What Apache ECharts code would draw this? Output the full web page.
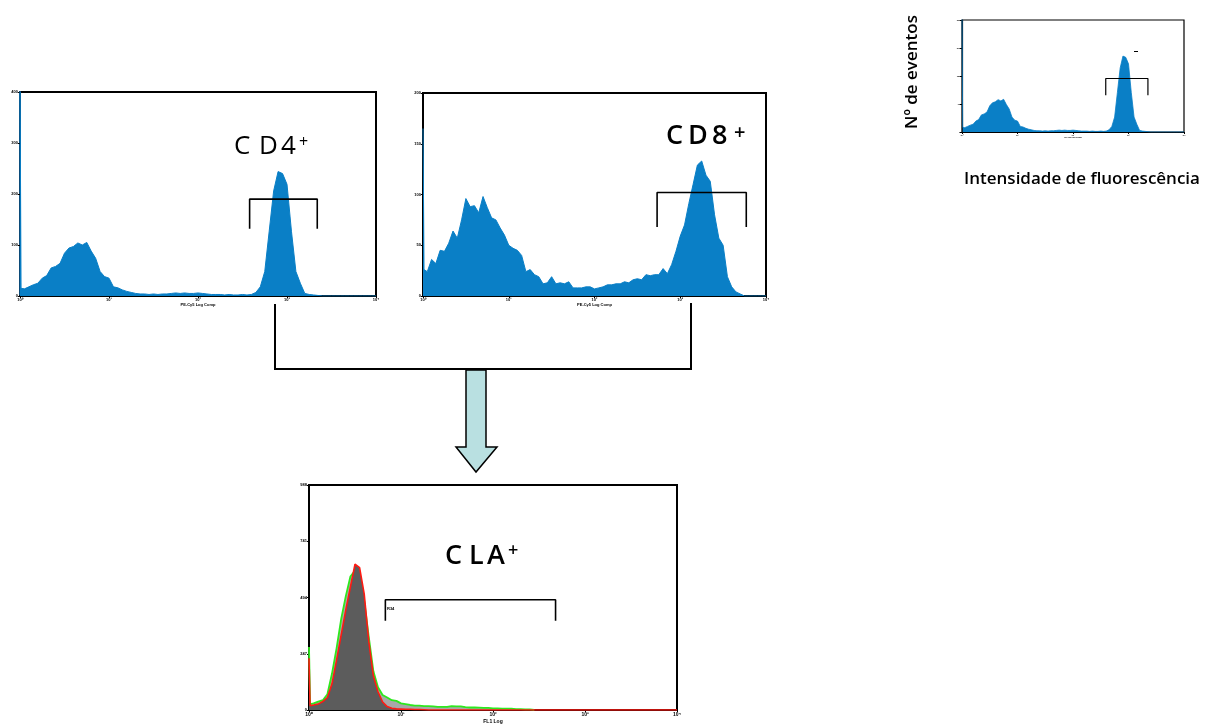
<!DOCTYPE html>
<html>
<head>
<meta charset="utf-8">
<script src="https://cdn.jsdelivr.net/npm/echarts@6/dist/echarts.min.js"></script>
<style>
  html, body { margin: 0; padding: 0; background: #fff; }
  #main { width: 1218px; height: 725px; }
</style>
</head>
<body>
<div id="main"></div>
<script>
// bins are 0.05 decade wide, from 10^0 to 10^4
const STEP = 0.05;
const EDGE_W = 0.012;
const SUP = ['\u2070', '\u00b9', '\u00b2', '\u00b3', '\u2074'];

// CD4 gate histogram (counts per bin)
const cd4Counts = [
  15, 14, 18, 22, 25, 35, 40, 55, 58, 64,
  84, 94, 97, 104, 100, 105, 88, 74, 48, 38,
  35, 18, 16, 12, 9, 7, 5, 4, 4, 3,
  4, 3, 4, 4, 5, 6, 5, 6, 5, 5,
  6, 5, 4, 3, 3, 3, 2, 3, 2, 2,
  3, 2, 3, 7, 18, 48, 127, 206, 244, 240,
  219, 127, 48, 25, 5, 3, 2, 1, 0, 0,
  0, 0, 0, 0, 0, 0, 0, 0, 0, 0, 0
];
const cd4Edge = 420;
const cd4Gate = [2.58, 3.34, 132, 190];

// CD8 gate histogram
const cd8Counts = [
  26, 24, 36, 32, 45, 44, 52, 64, 57, 75,
  96, 88, 89, 82, 98, 87, 77, 75, 67, 60,
  50, 47, 45, 40, 24, 26, 21, 19, 12, 13,
  19, 12, 13, 12, 14, 8, 8, 8, 9, 9,
  7, 8, 9, 11, 11, 12, 12, 14, 13, 16,
  17, 16, 21, 20, 21, 21, 27, 22, 31, 44,
  59, 70, 91, 110, 129, 133, 119, 113, 80, 57,
  50, 19, 9, 4, 2, 0, 0, 0, 0, 0, 0
];
const cd8Edge = 165;
const cd8Gate = [2.73, 3.77, 68, 102];

// CLA overlay: green outline (light fill) and red outline (dark fill)
const claGreen = [
  26, 29, 37, 43, 69, 160, 272, 400, 500, 586,
  612, 557, 480, 320, 170, 100, 66, 55, 43, 40,
  29, 26, 22, 19, 19, 17, 17, 16, 14, 14,
  14, 17, 16, 16, 13, 11, 11, 10, 9, 9,
  7, 7, 6, 6, 6, 4, 4, 3, 3, 1
];
const claGreenEdge = 277;
const claRed = [
  19, 22, 26, 37, 55, 115, 220, 330, 440, 540,
  640, 625, 510, 300, 150, 80, 35, 15, 8, 5,
  4, 3, 3, 2, 2, 1, 0, 0, 0, 0,
  0, 0, 0, 0, 0, 0, 0, 0, 0, 0,
  0, 0, 0, 0, 0, 0, 0, 0, 0, 0,
  0, 0, 0, 0, 0, 0, 0, 0, 0, 0,
  0, 0, 0, 0, 0, 0, 0, 0, 0, 0,
  0, 0, 0, 0, 0, 0, 0, 0, 0, 0, 0
];
const claRedEdge = 227;
const claGate = [0.83, 2.68, 392, 484];

// inset legend panel reuses the CD4 histogram
const insetGate = [2.59, 3.35, 118, 172];

const BLUE = '#0a7fc6';

function toPairs(vals, edge) {
  const pts = vals.map((v, i) => [i * STEP, v]);
  if (edge != null) {
    pts[0] = [EDGE_W, vals[0]];
    pts.unshift([0, edge]);
  }
  return pts;
}
function gatePts(g) {
  return [[g[0], g[2]], [g[0], g[3]], [g[1], g[3]], [g[1], g[2]]];
}

function xAx(idx, name, fs, gap) {
  return {
    gridIndex: idx, type: 'value', min: 0, max: 4, interval: 1,
    name: name, nameLocation: 'middle', nameGap: gap,
    nameTextStyle: { fontSize: fs, fontWeight: 'bold', fontFamily: 'Liberation Sans', color: '#000' },
    axisLine: { lineStyle: { color: '#000', width: 2 } },
    axisTick: { show: true, length: 2, lineStyle: { color: '#000', width: 1 } },
    axisLabel: { fontSize: fs, fontWeight: 'bold', fontFamily: 'Liberation Sans', color: '#000', margin: 2,
      formatter: v => '10' + SUP[v] },
    splitLine: { show: false }
  };
}
function yAx(idx, max, interval, fs, lineColor) {
  return {
    gridIndex: idx, type: 'value', min: 0, max: max, interval: interval,
    axisLine: { show: true, lineStyle: { color: lineColor || '#000', width: 2 } },
    axisTick: { show: true, length: 2, lineStyle: { color: '#000', width: 1 } },
    axisLabel: { fontSize: fs, fontWeight: 'bold', fontFamily: 'Liberation Sans', color: '#000', margin: 2 },
    splitLine: { show: false }
  };
}
function histSeries(idx, data, color, fill, width, z) {
  return {
    type: 'line', xAxisIndex: idx, yAxisIndex: idx, data: data,
    symbol: 'none', silent: true, z: z || 2,
    lineStyle: { color: color, width: width },
    areaStyle: { color: fill, opacity: 1 }
  };
}
function gateSeries(idx, g, w) {
  return {
    type: 'line', xAxisIndex: idx, yAxisIndex: idx, data: gatePts(g),
    symbol: 'none', silent: true, z: 5,
    lineStyle: { color: '#000', width: w }
  };
}
// one glyph per text element so the wide letter spacing of the figure is kept
function glyph(ch, x, y, size, weight) {
  return { type: 'text', x: x, y: y, z: 10,
    style: { text: ch, fontSize: size, fontFamily: 'Open Sans', fontWeight: weight, fill: '#000', verticalAlign: 'middle' } };
}

const chart = echarts.init(document.getElementById('main'));
const gridBox = { show: true, borderColor: '#000', borderWidth: 2, backgroundColor: 'transparent' };

chart.setOption({
  backgroundColor: '#fff',
  animation: false,
  grid: [
    Object.assign({ left: 20, top: 92, width: 356, height: 204 }, gridBox),
    Object.assign({ left: 423, top: 93, width: 343, height: 203 }, gridBox),
    Object.assign({ left: 309, top: 485, width: 368, height: 229 }, gridBox),
    Object.assign({ left: 962, top: 20, width: 222, height: 112 }, gridBox, { borderWidth: 1.2 })
  ],
  xAxis: [
    xAx(0, 'PE-Cy5 Log Comp', 4, 7),
    xAx(1, 'PE-Cy5 Log Comp', 4, 7),
    xAx(2, 'FL1 Log', 5, 9),
    Object.assign(xAx(3, 'PE-Cy5 Log Comp', 2, 4), { axisLine: { lineStyle: { color: '#000', width: 1.2 } } })
  ],
  yAxis: [
    yAx(0, 400, 100, 4, '#0b4a78'),
    yAx(1, 200, 50, 4),
    yAx(2, 988, 247, 4),
    Object.assign(yAx(3, 360, 90, 2), { axisLine: { show: true, lineStyle: { color: '#000', width: 1.2 } } })
  ],
  series: [
    histSeries(0, toPairs(cd4Counts, cd4Edge), BLUE, BLUE, 1),
    gateSeries(0, cd4Gate, 1.6),
    histSeries(1, toPairs(cd8Counts, cd8Edge), BLUE, BLUE, 1),
    gateSeries(1, cd8Gate, 1.6),
    histSeries(2, toPairs(claGreen, claGreenEdge), '#2ee81e', '#a8a8a8', 1.8, 2),
    histSeries(2, toPairs(claRed, claRedEdge), '#ff1a12', '#5c5c5c', 1.6, 3),
    gateSeries(2, claGate, 1.6),
    histSeries(3, toPairs(cd4Counts, cd4Edge), BLUE, BLUE, 0.8),
    gateSeries(3, insetGate, 1.2)
  ],
  graphic: [
    // connectors from the two gates down to the arrow
    { type: 'polyline', shape: { points: [[275, 304], [275, 369], [691, 369], [691, 303]] },
      style: { stroke: '#000', lineWidth: 2, fill: null }, z: 10 },
    { type: 'polygon', shape: { points: [[466, 370], [486, 370], [486, 447], [497, 447], [476, 472], [456, 447], [466, 447]] },
      style: { fill: '#b9e0e1', stroke: '#000', lineWidth: 1.5 }, z: 10 },
    glyph('C', 234, 147, 26, 400),
    glyph('D', 259, 147, 26, 400),
    glyph('4', 281, 147, 26, 400),
    glyph('+', 299, 142, 16, 400),
    glyph('C', 666, 136, 27, 600),
    glyph('D', 688, 136, 27, 600),
    glyph('8', 712, 136, 27, 600),
    glyph('+', 734, 133, 20, 600),
    glyph('C', 445, 556, 27, 600),
    glyph('L', 469, 556, 27, 600),
    glyph('A', 487, 556, 27, 600),
    glyph('+', 508, 551, 18, 600),
    { type: 'text', x: 387, y: 609, z: 10,
      style: { text: 'R34', fontSize: 4, fontFamily: 'Liberation Sans', fontWeight: 'bold', fill: '#000', verticalAlign: 'middle' } },
    { type: 'rect', shape: { x: 1134, y: 51, width: 4, height: 1 }, style: { fill: '#000' }, z: 10 },
    { type: 'text', x: 912, y: 72, rotation: Math.PI / 2, z: 10,
      style: { text: 'N\u00ba de eventos', fontSize: 17, fontFamily: 'Open Sans', fontWeight: 600, fill: '#000',
        align: 'center', verticalAlign: 'middle' } },
    { type: 'text', x: 1082, y: 179, z: 10,
      style: { text: 'Intensidade de fluoresc\u00eancia', fontSize: 17, fontFamily: 'Open Sans', fontWeight: 600, fill: '#000',
        align: 'center', verticalAlign: 'middle' } }
  ]
});
</script>
</body>
</html>
